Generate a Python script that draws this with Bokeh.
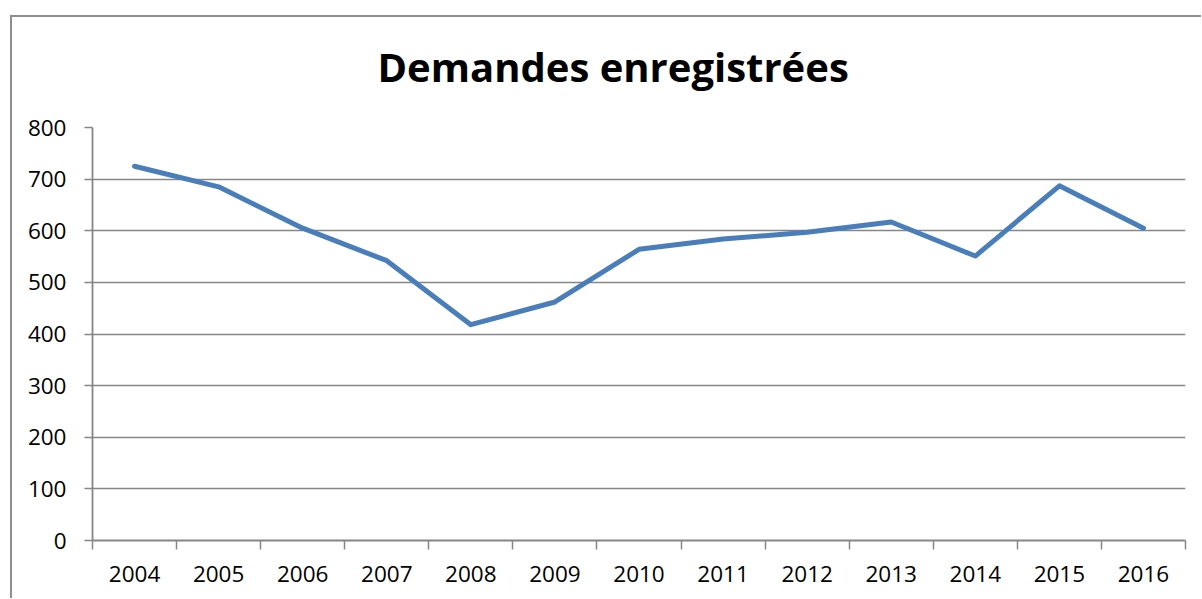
from bokeh.plotting import figure
from bokeh.models import Range1d, FixedTicker
from bokeh.embed import file_html
from bokeh.resources import INLINE

# ---- data ----
years = [2004, 2005, 2006, 2007, 2008, 2009, 2010, 2011, 2012, 2013, 2014, 2015, 2016]
year_labels = [str(y) for y in years]
demandes = [725, 685, 605, 542, 418, 462, 564, 584, 597, 617, 551, 687, 605]
y_ticks = [0, 100, 200, 300, 400, 500, 600, 700, 800]
title_text = "Demandes enregistrées"

GREY = "#868686"
BORDER = "#8f8f8f"
FONT = "Open Sans"

W, H = 1201, 598
p = figure(
    width=W, height=H,
    output_backend="svg", toolbar_location=None,
    x_range=Range1d(years[0] - 0.5, years[-1] + 0.5),
    y_range=Range1d(y_ticks[0], y_ticks[-1]),
    min_border_left=92, min_border_right=16,
    min_border_top=127, min_border_bottom=58,
    background_fill_color="white", border_fill_color=None,
    outline_line_color=None,
)
# outer chart-area border (left and top edges visible in the crop)
p.styles = {
    "background-color": "white",
    "background-image": f"linear-gradient({BORDER}, {BORDER}), linear-gradient({BORDER}, {BORDER})",
    "background-size": "100% 2px, 2px 100%",
    "background-position": "10px 15px, 10px 15px",
    "background-repeat": "no-repeat",
}

# title
p.title.text = title_text
p.title.text_font = FONT
p.title.text_font_style = "bold"
p.title.text_font_size = "40px"
p.title.text_color = "black"
p.title.align = "left"
p.title.offset = 285
p.title.vertical_align = "bottom"
p.title.standoff = 68

# line
p.line(years, demandes, line_color="#4a7ebb", line_width=5,
       line_join="round", line_cap="round")

# grid
p.xgrid.grid_line_color = None
p.ygrid.grid_line_color = GREY
p.ygrid.grid_line_width = 1.5
p.ygrid.ticker = FixedTicker(ticks=y_ticks)

# y axis
ya = p.yaxis[0]
ya.ticker = FixedTicker(ticks=y_ticks)
ya.axis_line_color = GREY
ya.axis_line_width = 1.8
ya.major_tick_line_color = GREY
ya.major_tick_line_width = 1.5
ya.major_tick_in = 0
ya.major_tick_out = 8
ya.minor_tick_line_color = None
ya.major_label_text_font = FONT
ya.major_label_text_font_size = "22.5px"
ya.major_label_text_color = "black"
ya.major_label_standoff = 18

# x axis: labels at year centres, ticks at category boundaries
boundaries = [y - 0.5 for y in years] + [years[-1] + 0.5]
xa = p.xaxis[0]
xa.ticker = FixedTicker(ticks=years, minor_ticks=boundaries)
xa.major_label_overrides = {y: s for y, s in zip(years, year_labels)}
xa.axis_line_color = GREY
xa.axis_line_width = 1.8
xa.major_tick_line_color = None
xa.major_tick_in = 0
xa.major_tick_out = 0
xa.minor_tick_line_color = GREY
xa.minor_tick_line_width = 1.5
xa.minor_tick_in = 0
xa.minor_tick_out = 9
xa.major_label_text_font = FONT
xa.major_label_text_font_size = "22.5px"
xa.major_label_text_color = "black"
xa.major_label_standoff = 16

open("out.html", "w").write(file_html(p, INLINE))
